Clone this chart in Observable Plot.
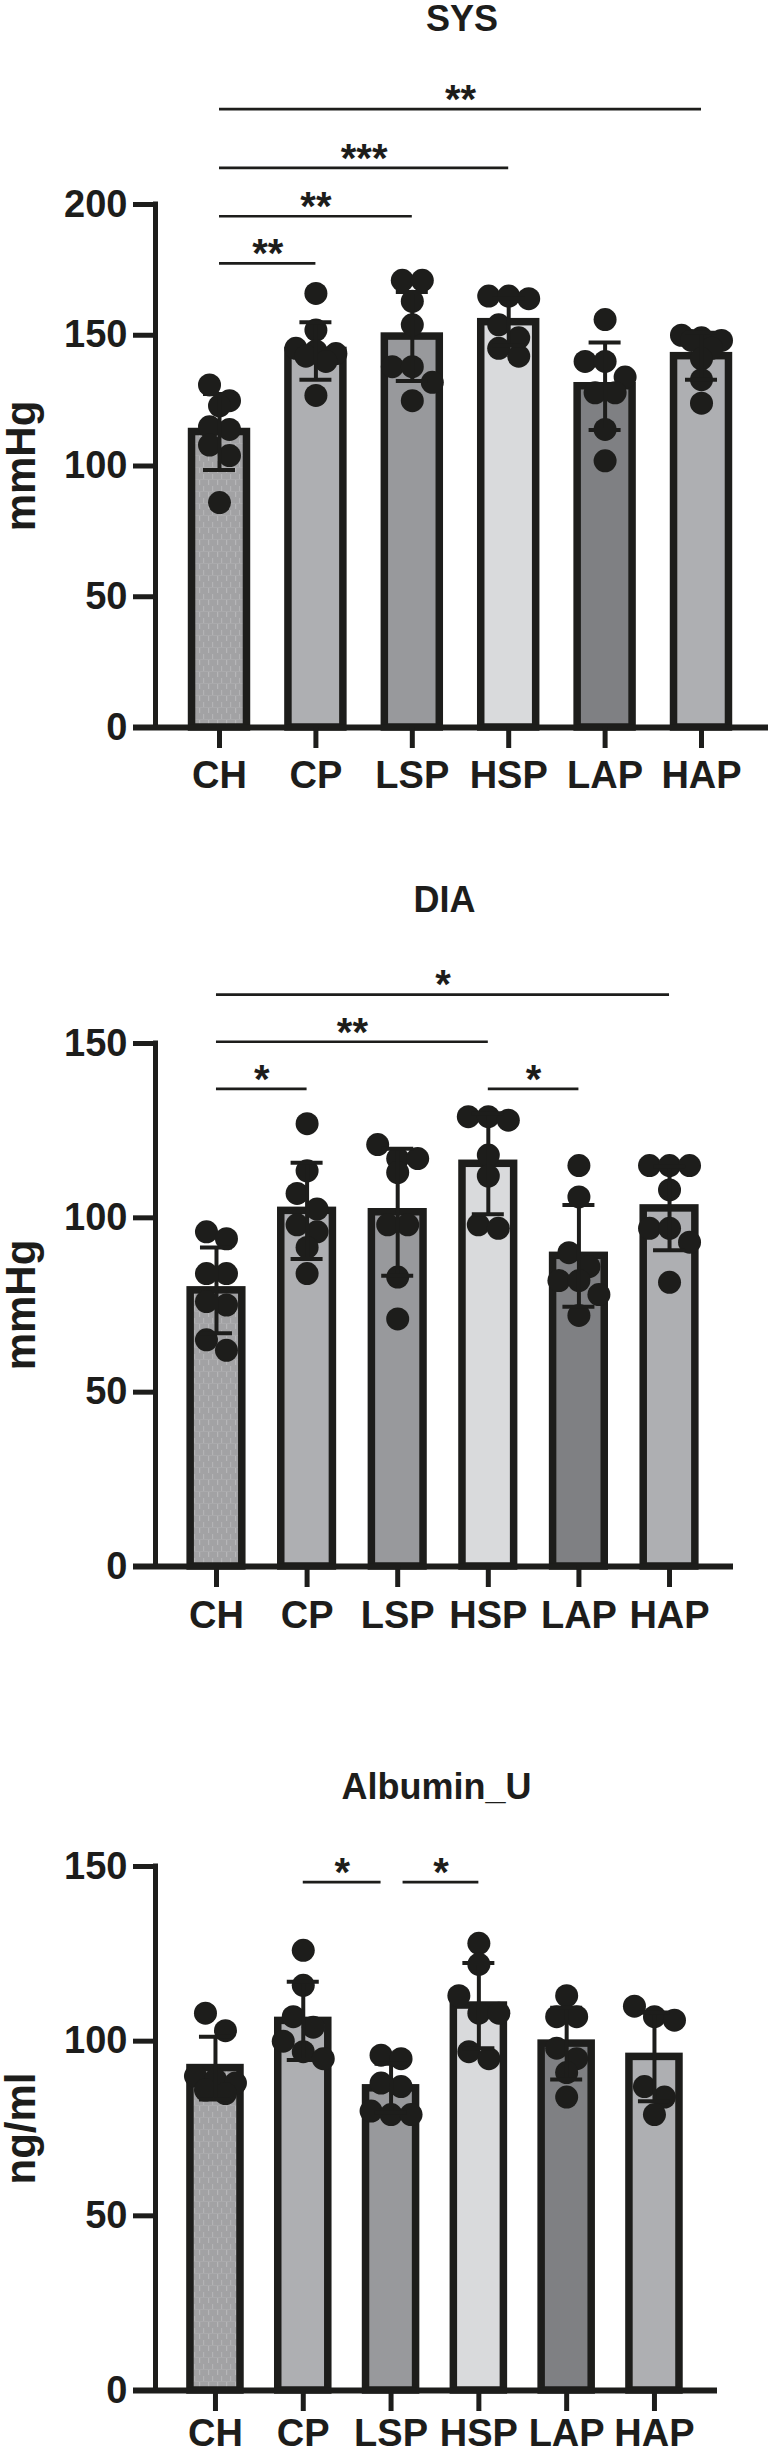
<!DOCTYPE html>
<html>
<head>
<meta charset="utf-8">
<script src="https://cdn.jsdelivr.net/npm/d3@7"></script>
<script src="https://cdn.jsdelivr.net/npm/@observablehq/plot@0.6"></script>
<style>
  body { margin: 0; background: #fff; }
  #chart svg { display: block; }
  #defs { position: absolute; width: 0; height: 0; overflow: hidden; }
</style>
</head>
<body>
<!-- speckled fill used by the CH bars -->
<svg id="defs" aria-hidden="true">
  <defs>
    <pattern id="chTexture" patternUnits="userSpaceOnUse" width="9" height="12">
      <rect width="9" height="12" fill="#a2a2a4"></rect>
      <rect x="1" y="0" width="1.2" height="5" fill="#b6b6b8"></rect>
      <rect x="5" y="6" width="1.2" height="5" fill="#b3b3b5"></rect>
      <rect x="0" y="11" width="9" height="0.8" fill="#acacae"></rect>
    </pattern>
  </defs>
</svg>
<div id="chart"></div>
<script>
// ---- data ----
const groups = ["CH", "CP", "LSP", "HSP", "LAP", "HAP"];
const groupFill = ["url(#chTexture)", "#aeafb2", "#98999c", "#d9dadc", "#7f8083", "#aeafb2"];

// Systolic pressure (mmHg)
const sysMean = [113, 144, 149.5, 155, 130.5, 142];
const sysSD = [14.5, 11, 17, 9, 16.7, 9];
const sysPoints = [
  [131, 125, 123, 115, 114, 108, 104, 86],
  [166, 152, 145, 144, 143, 142, 140, 127],
  [171, 171, 163, 154, 138, 138, 132, 125],
  [165, 165, 164, 154, 149, 145, 142],
  [156, 140, 140, 134, 128, 128, 114, 102],
  [150, 149, 148, 148, 145, 141, 133, 124]
];
const sysTicks = [0, 50, 100, 150, 200];
const sysPairs = [["CH", "CP"], ["CH", "LSP"], ["CH", "HSP"], ["CH", "HAP"]];
const sysStars = ["**", "**", "***", "**"];
const sysLevels = [177.5, 195.5, 214, 236.5];

// Diastolic pressure (mmHg)
const diaMean = [79.2, 102, 101.6, 115.5, 89.1, 102.7];
const diaSD = [12.3, 13.8, 18.2, 14.5, 14.6, 12];
const diaPoints = [
  [96, 94, 84, 84, 76, 75, 65, 62],
  [127, 113.5, 107, 102.5, 98, 96, 91.5, 84],
  [121, 117, 117, 113, 98, 98, 83, 71],
  [129, 129, 128, 118, 112, 98, 97],
  [115, 106, 90, 86, 82, 82, 78, 72],
  [115, 115, 115, 108, 97, 97, 93, 81.5]
];
const diaTicks = [0, 50, 100, 150];
const diaPairs = [["CH", "CP"], ["HSP", "LAP"], ["CH", "HSP"], ["CH", "HAP"]];
const diaStars = ["*", "*", "**", "*"];
const diaLevels = [137, 137, 150.5, 164];

// Urinary albumin (ng/ml)
const albMean = [92.3, 105.8, 86.5, 110.2, 99.3, 95.5];
const albSD = [9, 11.2, 7, 12.2, 10.3, 12.7];
const albPoints = [
  [108, 103, 90, 89, 88, 86, 85],
  [126, 116, 107, 104, 100, 97, 95],
  [96, 95, 88, 87, 80, 79, 79],
  [128, 122, 113, 108, 108, 97, 95],
  [113, 107, 107, 98, 95, 91, 84],
  [110, 107, 106, 87, 84, 79]
];
const albTicks = [0, 50, 100, 150];
const albPairs = [["CP", "LSP"], ["LSP", "HSP"]];
const albStars = ["*", "*"];
const albLevels = [145.5, 145.5];

// ---- drawing ----
const ink = "#1d1d1b";
const font = "'Liberation Sans', Arial, Helvetica, sans-serif";
const W = 768;

function panel(cfg) {
  const {title, ylabel, mean, sd, points, ticks, pairs, stars, levels,
         height, marginTop, marginBottom, marginRight, xDomain, titleDy, labelPadding} = cfg;
  const marginLeft = 155;
  const yMax = ticks[ticks.length - 1];
  const pxX = (W - marginLeft - marginRight) / (xDomain[1] - xDomain[0]);
  const pxY = (height - marginTop - marginBottom) / yMax;
  const hw = 0.285;           // half bar width, in category steps
  const cap = 16 / pxX;       // half error-bar cap width
  const dotSpacing = 20 / pxX;

  const bars = groups.map((g, i) => ({i, g, mean: mean[i], sd: sd[i], fill: groupFill[i]}));
  const caps = bars.flatMap(d => [
    {i: d.i, y: d.mean + d.sd},
    {i: d.i, y: d.mean - d.sd}
  ]);

  // Arrange replicate points in rows, spread symmetrically around the bar centre
  const dots = [];
  points.forEach((vals, i) => {
    const sorted = vals.slice().sort((a, b) => b - a);
    const rows = [];
    for (const v of sorted) {
      const row = rows[rows.length - 1];
      if (row && (row[0] - v) * pxY < 18 && row.length < 3) row.push(v);
      else rows.push([v]);
    }
    for (const row of rows) {
      row.forEach((v, k) => dots.push({i, v, x: i + (k - (row.length - 1) / 2) * dotSpacing}));
    }
  });

  // Significance brackets; brackets sharing an end at the same height leave a small gap
  const sig = pairs.map(([a, b], k) => ({
    a: groups.indexOf(a), b: groups.indexOf(b), level: levels[k], stars: stars[k]
  }));
  const gap = 10 / pxX;
  sig.forEach(s => {
    s.x1 = s.a; s.x2 = s.b;
    if (sig.some(o => o !== s && o.level === s.level && o.a === s.b)) s.x2 -= gap;
    if (sig.some(o => o !== s && o.level === s.level && o.b === s.a)) s.x1 += gap * 1.2;
  });

  return Plot.plot({
    width: W,
    height,
    marginLeft,
    marginRight,
    marginTop,
    marginBottom,
    x: {domain: xDomain},
    y: {domain: [0, yMax]},
    color: {type: "identity"},
    style: {fontFamily: font, fontWeight: "bold", color: ink, background: "#fff", overflow: "visible"},
    marks: [
      Plot.rect(bars, {
        x1: d => d.i - hw, x2: d => d.i + hw, y1: 0, y2: "mean",
        fill: "fill", stroke: ink, strokeWidth: 7.5
      }),
      Plot.dot(dots, {x: "x", y: "v", r: 11.5, fill: ink, stroke: null}),
      Plot.ruleX(bars, {x: "i", y1: d => d.mean - d.sd, y2: d => d.mean + d.sd, stroke: ink, strokeWidth: 4}),
      Plot.ruleY(caps, {y: "y", x1: d => d.i - cap, x2: d => d.i + cap, stroke: ink, strokeWidth: 4}),
      Plot.ruleX([xDomain[0]], {stroke: ink, strokeWidth: 5, strokeLinecap: "square"}),
      Plot.ruleY([0], {stroke: ink, strokeWidth: 6, insetLeft: -22}),
      Plot.axisY({ticks, tickSize: 22, tickPadding: 6, fontSize: 38, stroke: ink, strokeWidth: 5, label: null}),
      Plot.axisX({ticks: groups.map((g, i) => i), tickFormat: i => groups[i], tickSize: 21, tickPadding: labelPadding,
                  fontSize: 38, stroke: ink, strokeWidth: 5, label: null}),
      Plot.ruleY(sig, {y: "level", x1: "x1", x2: "x2", stroke: ink, strokeWidth: 2.7}),
      Plot.text(sig, {x: d => (d.x1 + d.x2) / 2, y: "level", text: "stars", dy: -9,
                      fontSize: 40, lineAnchor: "middle", textAnchor: "middle", fill: ink}),
      Plot.text([title], {frameAnchor: "top", dy: titleDy, fontSize: 36, lineAnchor: "middle",
                          textAnchor: "middle", fill: ink}),
      Plot.text([ylabel], {frameAnchor: "left", dx: -134, rotate: -90, fontSize: 42, lineAnchor: "middle",
                           textAnchor: "middle", fill: ink})
    ]
  });
}

const chart = document.getElementById("chart");
chart.append(panel({
  title: "SYS", ylabel: "mmHg", mean: sysMean, sd: sysSD, points: sysPoints, ticks: sysTicks,
  pairs: sysPairs, stars: sysStars, levels: sysLevels,
  height: 820, marginTop: 204, marginBottom: 93, marginRight: 0,
  xDomain: [-0.664, 5.695], titleDy: -185, labelPadding: 13
}));
chart.append(panel({
  title: "DIA", ylabel: "mmHg", mean: diaMean, sd: diaSD, points: diaPoints, ticks: diaTicks,
  pairs: diaPairs, stars: diaStars, levels: diaLevels,
  height: 830, marginTop: 223, marginBottom: 84, marginRight: 35,
  xDomain: [-0.673, 5.706], titleDy: -143, labelPadding: 14
}));
chart.append(panel({
  title: "Albumin_U", ylabel: "ng/ml", mean: albMean, sd: albSD, points: albPoints, ticks: albTicks,
  pairs: albPairs, stars: albStars, levels: albLevels,
  height: 805, marginTop: 216, marginBottom: 65, marginRight: 51,
  xDomain: [-0.683, 5.718], titleDy: -79, labelPadding: 8
}));
</script>
</body>
</html>
